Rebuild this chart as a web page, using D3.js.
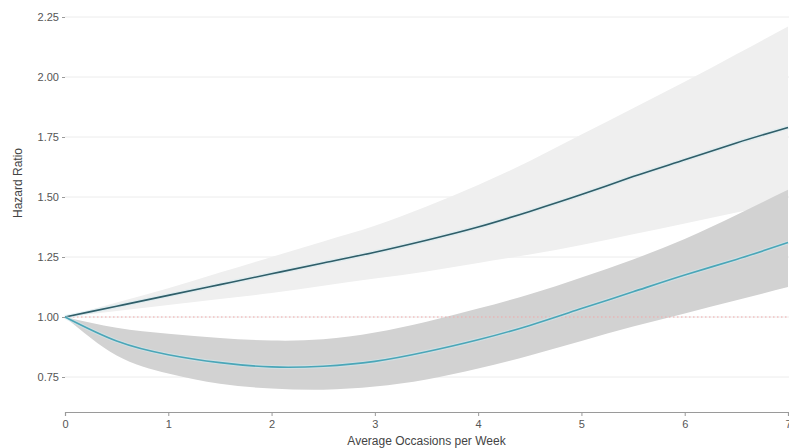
<!DOCTYPE html>
<html>
<head>
<meta charset="utf-8">
<script src="https://cdn.jsdelivr.net/npm/d3@7"></script>
<style>
  body{margin:0;background:#fff}
  svg{display:block;font-family:"Liberation Sans",Arial,sans-serif}
</style>
</head>
<body>
<svg id="chart" width="789" height="448"></svg>
<script>
// values, every 0.5 occasions/week
var occasions = [0,0.5,1,1.5,2,2.5,3,3.5,4,4.5,5,5.5,6,6.5,7]

// upper curve (dark line) + its CI
var hrUpper    = [1.00,1.045,1.09,1.135,1.18,1.225,1.27,1.32,1.375,1.44,1.51,1.585,1.655,1.725,1.79]
var hrUpperHi  = [1.00,1.06,1.12,1.185,1.25,1.315,1.38,1.46,1.55,1.65,1.76,1.87,1.98,2.095,2.21]
var hrUpperLo  = [1.00,1.025,1.05,1.075,1.10,1.13,1.16,1.19,1.225,1.26,1.30,1.345,1.39,1.435,1.48]

// lower curve (light teal line) + its CI
var hrLower    = [1.00,0.90,0.843,0.81,0.792,0.795,0.815,0.855,0.905,0.965,1.035,1.105,1.175,1.24,1.31]
var hrLowerHi  = [1.00,0.955,0.93,0.912,0.902,0.907,0.935,0.98,1.035,1.095,1.165,1.24,1.325,1.425,1.53]
var hrLowerLo  = [1.00,0.84,0.765,0.722,0.702,0.697,0.71,0.74,0.785,0.84,0.9,0.96,1.015,1.07,1.125]

var yTicks = [0.75,1.00,1.25,1.50,1.75,2.00,2.25]
var xTicks = [0,1,2,3,4,5,6,7]

var svg = d3.select('#chart')
var x = d3.scaleLinear().domain([0,7]).range([65,788]),
    y = d3.scaleLinear().domain([0.6,2.3]).range([413,5])

var rows = occasions.map(function(o,i){
    return {x:o, up:hrUpper[i], upHi:hrUpperHi[i], upLo:hrUpperLo[i],
            lo:hrLower[i], loHi:hrLowerHi[i], loLo:hrLowerLo[i]}
})

// horizontal grid
svg.append('g').selectAll('line')
    .data(yTicks).enter().append('line')
    .attr('x1',x(0)).attr('x2',789)
    .attr('y1',function(d){return y(d)}).attr('y2',function(d){return y(d)})
    .attr('stroke','#ececec').attr('stroke-width',1)

// confidence bands
function band(hi,lo){
    return d3.area().curve(d3.curveNatural)
        .x(function(d){return x(d.x)})
        .y0(function(d){return y(d[lo])})
        .y1(function(d){return y(d[hi])})
}
svg.append('path').datum(rows).attr('d',band('upHi','upLo')).attr('fill','#efefef')
svg.append('path').datum(rows).attr('d',band('loHi','loLo')).attr('fill','#d2d2d2')

// reference line at HR = 1
svg.append('line')
    .attr('x1',x(0)).attr('x2',789)
    .attr('y1',y(1)).attr('y2',y(1))
    .attr('stroke','#f2a8a8').attr('stroke-width',1.2)
    .attr('stroke-dasharray','1.5,2.5')

// estimate lines
function curve(key){
    return d3.line().curve(d3.curveNatural)
        .x(function(d){return x(d.x)})
        .y(function(d){return y(d[key])})
}
;[['up','#2f5e69'],['lo','#4aa6b8']].forEach(function(s){
    svg.append('path').datum(rows).attr('d',curve(s[0]))
        .attr('fill','none').attr('stroke','#cfe9ef').attr('stroke-width',4).attr('opacity',0.5)
    svg.append('path').datum(rows).attr('d',curve(s[0]))
        .attr('fill','none').attr('stroke',s[1]).attr('stroke-width',1.6)
})

// y axis (ticks + labels, no line)
var yAxis = svg.append('g').attr('transform','translate('+x(0)+',0)')
    .call(d3.axisLeft(y).tickValues(yTicks).tickSize(3).tickPadding(3).tickFormat(d3.format('.2f')))
yAxis.select('.domain').remove()
yAxis.selectAll('line').attr('stroke','#9a9a9a')
yAxis.selectAll('text').attr('fill','#555').attr('font-size',11)

// x axis
var xAxis = svg.append('g').attr('transform','translate(0,412)')
    .call(d3.axisBottom(x).tickValues(xTicks).tickSize(4).tickPadding(4).tickFormat(d3.format('d')))
xAxis.select('.domain').attr('stroke','#9a9a9a').attr('stroke-width',1.2)
xAxis.selectAll('line').attr('stroke','#9a9a9a')
xAxis.selectAll('text').attr('fill','#555').attr('font-size',11)

// titles
svg.append('text')
    .attr('x',(x(0)+x(7))/2).attr('y',445)
    .attr('text-anchor','middle').attr('font-size',12).attr('fill','#444')
    .text('Average Occasions per Week')
svg.append('text')
    .attr('transform','translate(22,183) rotate(-90)')
    .attr('text-anchor','middle').attr('font-size',12).attr('fill','#444')
    .text('Hazard Ratio')
</script>
</body>
</html>
